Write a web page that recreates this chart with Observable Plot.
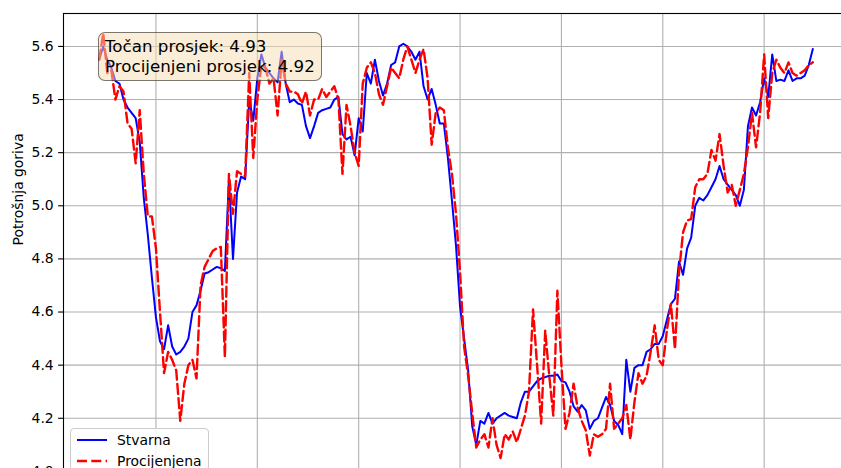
<!DOCTYPE html>
<html>
<head>
<meta charset="utf-8">
<script src="https://cdn.jsdelivr.net/npm/d3@7"></script>
<script src="https://cdn.jsdelivr.net/npm/@observablehq/plot@0.6"></script>
<style>
  html, body { margin: 0; padding: 0; background: #fff; }
  #wrap { position: relative; width: 841px; height: 468px; overflow: hidden; background: #fff; }
  #chart { position: absolute; left: 0; top: 0; width: 860px; height: 520px; }
  #chart svg { max-width: none !important; width: 860px !important; height: 520px !important; }
  #box {
    position: absolute; left: 98px; top: 32px; width: 216px; height: 44px;
    border: 1px solid rgba(0,0,0,0.5); border-radius: 7px;
    background: rgba(245,222,179,0.5);
    font-family: "DejaVu Sans", sans-serif; font-size: 16.7px; line-height: 20px;
    color: #000; padding: 3px 0 0 6px; box-sizing: content-box; white-space: nowrap;
  }
  #legend {
    position: absolute; left: 70px; top: 428px; width: 137px; height: 52px;
    border: 1px solid #cccccc; border-radius: 4px; background: rgba(255,255,255,0.8);
    font-family: "DejaVu Sans", sans-serif; font-size: 13.9px; color: #000;
  }
  .lrow { position: absolute; left: 0; height: 20px; line-height: 20px; width: 137px; }
  .lrow svg { position: absolute; left: 5px; top: 0; }
  .lrow span { position: absolute; left: 46px; top: 0; }
</style>
</head>
<body>
<div id="wrap">
  <div id="chart"></div>
  <div id="box"><div id="line1"></div><div id="line2"></div></div>
  <div id="legend">
    <div class="lrow" style="top:1px"><svg width="36" height="20"><line x1="1" y1="10" x2="31" y2="10" stroke="#0000ff" stroke-width="2"/></svg><span id="leg1"></span></div>
    <div class="lrow" style="top:22px"><svg width="36" height="20"><line x1="1" y1="10" x2="31" y2="10" stroke="#ff0000" stroke-width="2.4" stroke-dasharray="10,4.3"/></svg><span id="leg2"></span></div>
  </div>
</div>
<script>
// ---- data ----
const seriesNames = ["Stvarna", "Procijenjena"];
const yLabel = "Potrošnja goriva";
const annotation = ["Točan prosjek: 4.93", "Procijenjeni prosjek: 4.92"];
const sampleStart = 11;
const yTicks = [4.0, 4.2, 4.4, 4.6, 4.8, 5.0, 5.2, 5.4, 5.6];
const xTicks = [25, 50, 75, 100, 125, 150, 175];

const actual = [
 5.55,5.60,5.55,5.52,5.47,5.46,5.40,5.37,5.35,5.33,
 5.24,5.03,4.89,4.73,4.58,4.49,4.46,4.55,4.47,4.44,
 4.45,4.47,4.50,4.60,4.625,4.68,4.745,4.75,4.76,4.77,
 4.765,4.755,5.10,4.80,5.05,5.11,5.10,5.40,5.32,5.48,
 5.57,5.52,5.50,5.48,5.465,5.58,5.46,5.39,5.40,5.385,
 5.38,5.30,5.255,5.30,5.35,5.36,5.365,5.37,5.40,5.41,
 5.27,5.25,5.26,5.19,5.33,5.28,5.50,5.46,5.55,5.47,
 5.415,5.46,5.53,5.54,5.60,5.61,5.60,5.58,5.55,5.58,
 5.45,5.40,5.44,5.38,5.31,5.31,5.18,5.02,4.85,4.62,
 4.50,4.38,4.17,4.10,4.19,4.18,4.22,4.18,4.20,4.21,
 4.22,4.21,4.205,4.20,4.26,4.30,4.30,4.32,4.34,4.35,
 4.355,4.36,4.36,4.365,4.34,4.335,4.30,4.245,4.225,4.25,
 4.23,4.16,4.19,4.20,4.24,4.28,4.25,4.19,4.175,4.14,
 4.42,4.30,4.39,4.40,4.40,4.45,4.46,4.48,4.48,4.51,
 4.57,4.63,4.65,4.79,4.74,4.84,4.88,5.00,5.03,5.02,
 5.04,5.07,5.10,5.15,5.10,5.08,5.06,5.04,5.00,5.06,
 5.30,5.37,5.34,5.39,5.48,5.41,5.57,5.47,5.475,5.47,
 5.51,5.47,5.48,5.48,5.49,5.53,5.59
];

const predicted = [
 5.55,5.65,5.50,5.51,5.40,5.45,5.43,5.31,5.29,5.16,
 5.36,5.12,4.96,4.96,4.84,4.60,4.37,4.45,4.42,4.38,
 4.19,4.33,4.40,4.42,4.35,4.70,4.77,4.80,4.83,4.84,
 4.845,4.43,5.12,4.97,5.13,5.12,5.11,5.50,5.18,5.40,
 5.53,5.52,5.46,5.48,5.34,5.55,5.46,5.43,5.43,5.42,
 5.385,5.43,5.34,5.40,5.40,5.44,5.41,5.43,5.45,5.40,
 5.12,5.38,5.30,5.20,5.15,5.46,5.52,5.54,5.50,5.42,
 5.38,5.45,5.52,5.50,5.48,5.55,5.60,5.55,5.50,5.55,
 5.59,5.48,5.23,5.35,5.37,5.36,5.22,5.12,4.97,4.75,
 4.47,4.36,4.22,4.09,4.12,4.14,4.09,4.20,4.10,4.05,
 4.14,4.12,4.15,4.11,4.16,4.21,4.30,4.61,4.40,4.18,
 4.53,4.36,4.21,4.68,4.40,4.16,4.22,4.33,4.24,4.19,
 4.155,4.06,4.14,4.13,4.14,4.16,4.33,4.16,4.18,4.20,
 4.25,4.12,4.26,4.37,4.33,4.36,4.45,4.55,4.42,4.40,
 4.53,4.63,4.46,4.75,4.90,4.945,4.95,5.07,5.10,5.10,
 5.12,5.21,5.17,5.27,5.15,5.05,5.08,5.00,5.06,5.12,
 5.22,5.35,5.22,5.35,5.57,5.33,5.50,5.55,5.52,5.50,
 5.54,5.50,5.49,5.50,5.51,5.53,5.54
];

// ---- table ----
const data = actual.map((v, i) => ({idx: sampleStart + i, actual: v, pred: predicted[i]}));

const chart = Plot.plot({
  width: 860,
  height: 520,
  marginTop: 13,
  marginLeft: 63,
  marginRight: 12,
  marginBottom: 43,
  x: {domain: [2.2, 195.8], axis: null},
  y: {domain: [3.977, 5.724]},
  style: {fontFamily: "DejaVu Sans, sans-serif", fontSize: "13.9px", background: "white", color: "black", overflow: "visible", maxWidth: "none"},
  marks: [
    Plot.gridX(xTicks, {stroke: "#b0b0b0", strokeOpacity: 1, strokeWidth: 1.1}),
    Plot.gridY(yTicks, {stroke: "#b0b0b0", strokeOpacity: 1, strokeWidth: 1.1}),
    Plot.line(data, {x: "idx", y: "actual", stroke: "#0000ff", strokeWidth: 2}),
    Plot.line(data, {x: "idx", y: "pred", stroke: "#ff0000", strokeWidth: 2.4, strokeDasharray: "10,4.3"}),
    Plot.frame({stroke: "black", strokeWidth: 1.1}),
    Plot.axisY(yTicks, {tickSize: 4.9, tickPadding: 4.9, strokeWidth: 1.1, tickFormat: d => d.toFixed(1), label: null, fontSize: 13.9}),
    Plot.text([yLabel], {frameAnchor: "left", rotate: -90, dx: -45, fontSize: 13.9, fill: "black"})
  ]
});
document.getElementById("chart").appendChild(chart);
document.getElementById("line1").textContent = annotation[0];
document.getElementById("line2").textContent = annotation[1];
document.getElementById("leg1").textContent = seriesNames[0];
document.getElementById("leg2").textContent = seriesNames[1];
</script>
</body>
</html>
